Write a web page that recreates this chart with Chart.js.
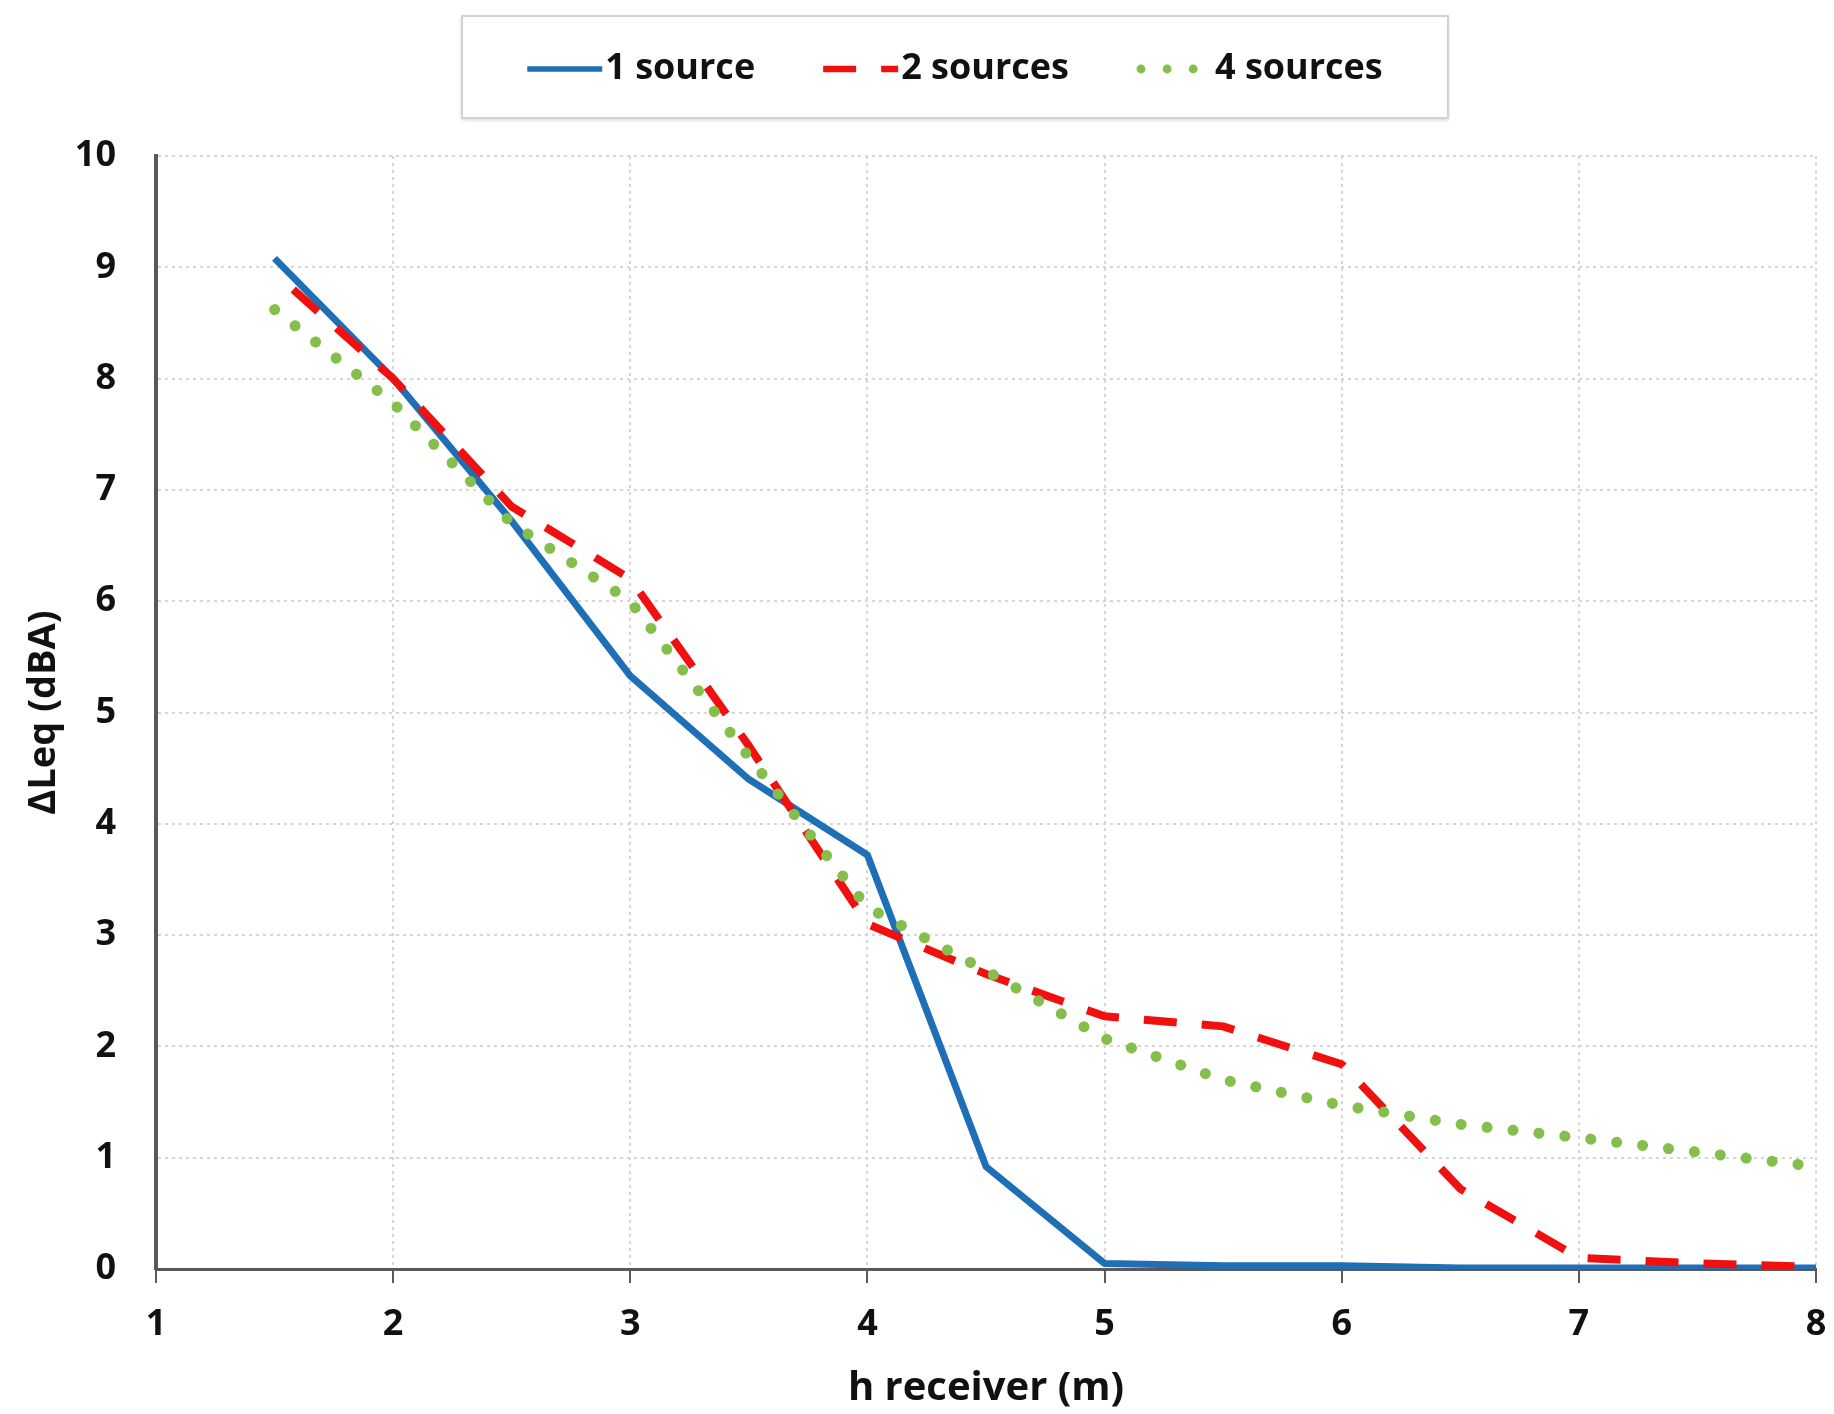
<!DOCTYPE html>
<html>
<head>
<meta charset="utf-8">
<title>ΔLeq vs h receiver</title>
<script src="https://cdn.jsdelivr.net/npm/chart.js@4.4.1/dist/chart.umd.min.js"></script>
<style>
    html, body { margin: 0; padding: 0; background: #fff; }
    #wrap { width: 1834px; height: 1414px; position: relative; }
</style>
</head>
<body>
<div id="wrap"><canvas id="leqChart"></canvas></div>
<script>
// ===== DATA =====
const hReceiver   = [1.5, 2, 2.5, 3, 3.5, 4, 4.5, 5, 5.5, 6, 6.5, 7, 7.5, 8];
const oneSource   = [9.08, 8.0, 6.72, 5.33, 4.4, 3.72, 0.92, 0.05, 0.03, 0.03, 0.01, 0.01, 0.01, 0.01];
const twoSources  = [8.95, 8.0, 6.85, 6.2, 4.7, 3.1, 2.65, 2.27, 2.18, 1.84, 0.72, 0.1, 0.05, 0.02];
const fourSources = [8.62, 7.78, 6.7, 6.0, 4.6, 3.25, 2.68, 2.07, 1.7, 1.47, 1.3, 1.18, 1.05, 0.92];

const seriesLabels = ['1 source', '2 sources', '4 sources'];
const xTicks = [1, 2, 3, 4, 5, 6, 7, 8];
const yTicks = [0, 1, 2, 3, 4, 5, 6, 7, 8, 9, 10];

const FONT = '"Open Sans", "Liberation Sans", sans-serif';
const AXIS_GREY = '#595959';
const GRID_GREY = '#d6d6d6';

function toPoints(values) {
    return hReceiver.map((x, i) => ({ x: x, y: values[i] }));
}

// ===== LEGEND (boxed, drawn on top like the Excel one) =====
const legendBox = {
    id: 'legendBox',
    afterDraw(chart) {
        const ctx = chart.ctx;
        const box = { x: 462, y: 16, w: 986, h: 102 };
        ctx.save();

        ctx.fillStyle = '#fff';
        ctx.shadowColor = 'rgba(0, 0, 0, 0.18)';
        ctx.shadowBlur = 4;
        ctx.shadowOffsetY = 2;
        ctx.fillRect(box.x, box.y, box.w, box.h);
        ctx.shadowColor = 'transparent';
        ctx.strokeStyle = '#d2d2d2';
        ctx.lineWidth = 2;
        ctx.strokeRect(box.x, box.y, box.w, box.h);

        ctx.font = 'bold 36px ' + FONT;
        ctx.textBaseline = 'middle';
        const sampleW = 75, textGap = 3, itemGap = 68;
        const items = chart.data.datasets.map(ds => ({
            ds: ds,
            w: sampleW + textGap + ctx.measureText(ds.label).width
        }));
        const total = items.reduce((s, it) => s + it.w, 0) + itemGap * (items.length - 1);
        let x = box.x + (box.w - total) / 2;
        const cy = box.y + box.h / 2 + 2;

        items.forEach(it => {
            const ds = it.ds;
            ctx.beginPath();
            ctx.strokeStyle = ds.borderColor;
            ctx.lineWidth = ds.borderWidth * 0.8;
            ctx.lineCap = ds.borderCapStyle || 'butt';
            ctx.setLineDash(ds.borderDash || []);
            ctx.lineDashOffset = 0;
            ctx.moveTo(x + (ds.borderCapStyle === 'round' ? 4 : 0), cy);
            ctx.lineTo(x + sampleW, cy);
            ctx.stroke();
            ctx.setLineDash([]);
            ctx.fillStyle = '#111';
            ctx.fillText(ds.label, x + sampleW + textGap, cy);
            x += it.w + itemGap;
        });
        ctx.restore();
    }
};

// ===== CHART =====
const ctx = document.getElementById('leqChart');

new Chart(ctx, {
    type: 'line',
    data: {
        datasets: [{
            label: seriesLabels[0],
            data: toPoints(oneSource),
            borderColor: '#1f6fb6',
            borderWidth: 7,
            borderJoinStyle: 'round',
            order: 3
        }, {
            label: seriesLabels[1],
            data: toPoints(twoSources),
            borderColor: '#f01010',
            borderWidth: 8,
            borderDash: [33, 25],
            borderDashOffset: 33,
            borderJoinStyle: 'round',
            order: 2
        }, {
            label: seriesLabels[2],
            data: toPoints(fourSources),
            borderColor: '#84bf4c',
            borderWidth: 11,
            borderDash: [0.1, 26],
            borderCapStyle: 'round',
            borderJoinStyle: 'round',
            order: 1
        }]
    },
    options: {
        responsive: true,
        maintainAspectRatio: false,
        animation: false,
        layout: {
            padding: { top: 156, right: 18, left: 0, bottom: 0 }
        },
        elements: {
            point: { radius: 0, hoverRadius: 0 },
            line: { tension: 0 }
        },
        plugins: {
            legend: { display: false },
            tooltip: { enabled: false }
        },
        scales: {
            x: {
                type: 'linear',
                min: xTicks[0],
                max: xTicks[xTicks.length - 1],
                ticks: {
                    stepSize: 1,
                    padding: 20,
                    color: '#111',
                    font: { family: FONT, size: 36, weight: 'bold' }
                },
                grid: {
                    color: GRID_GREY,
                    lineWidth: 2,
                    tickLength: 14,
                    tickColor: AXIS_GREY,
                    tickWidth: 2,
                    tickBorderDash: []
                },
                border: { color: AXIS_GREY, width: 3, dash: [3, 4] },
                title: {
                    display: true,
                    text: 'h receiver (m)',
                    color: '#111',
                    font: { family: FONT, size: 40, weight: 'bold' },
                    padding: { top: 0, bottom: 1 }
                },
                afterFit(scale) {
                    scale.height = 145;
                    // keep the plot out to the right edge like the original
                    scale.paddingLeft = 0;
                    scale.paddingRight = 0;
                }
            },
            y: {
                min: yTicks[0],
                max: yTicks[yTicks.length - 1],
                ticks: {
                    stepSize: 1,
                    padding: 40,
                    color: '#111',
                    font: { family: FONT, size: 36, weight: 'bold' }
                },
                grid: {
                    color: GRID_GREY,
                    lineWidth: 2,
                    drawTicks: false
                },
                border: { color: AXIS_GREY, width: 4, dash: [3, 4] },
                title: {
                    display: true,
                    text: 'ΔLeq (dBA)',
                    color: '#111',
                    font: { family: FONT, size: 38, weight: 'bold' },
                    padding: { top: 21, bottom: 0 }
                },
                afterFit(scale) { scale.width = 156; }
            }
        }
    },
    plugins: [legendBox]
});
</script>
</body>
</html>
